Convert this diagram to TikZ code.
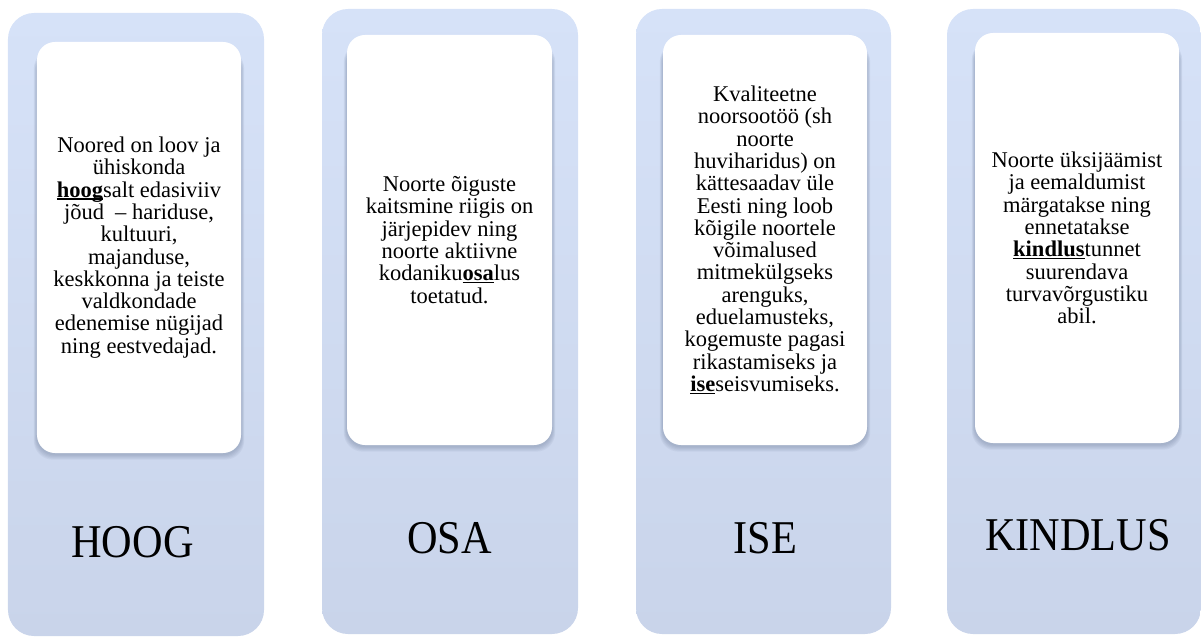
\documentclass[tikz,border=0pt]{standalone}
\usepackage{fontspec}
\setmainfont{Liberation Serif}
\definecolor{colTop}{RGB}{214,226,248}
\definecolor{colBot}{RGB}{201,212,234}
\definecolor{shadowc}{RGB}{95,110,140}
\newcommand{\kw}[1]{\setbox0\hbox{\textbf{#1}}\rlap{\rule[-2.6bp]{\wd0}{1.3bp}}\box0}
\newcommand{\mylbl}[1]{\scalebox{0.9}[1]{#1}}
\pgfdeclarelayer{colbg}
\pgfdeclarelayer{shadowbg}
\pgfsetlayers{colbg,shadowbg,main}
\begin{document}
\begin{tikzpicture}[x=1bp,y=1bp,
  col/.style={rectangle, rounded corners=26bp, top color=colTop, bottom color=colBot, draw=none, inner sep=0, minimum width=256bp, minimum height=624bp},
  card/.style={rectangle, fill=white, rounded corners=18bp, inner sep=0, minimum width=204bp, minimum height=410bp},
  shade/.style={fill=shadowc, opacity=.08, rounded corners=19bp},
  txt/.style={align=center, font=\fontsize{22.5bp}{22.3bp}\selectfont, inner sep=0},
  lbl/.style={anchor=base, font=\fontsize{47bp}{52bp}\selectfont, inner sep=0}]
\useasboundingbox (0,0) rectangle (1201,-637);
% columns
\begin{pgfonlayer}{colbg}
\node[col, minimum height=623bp] (col1) at (136,-324.5) {};
\node[col, minimum height=625bp] (col2) at (450,-321.5) {};
\node[col, minimum height=625bp, minimum width=255bp] (col3) at (763.5,-321.5) {};
\node[col, minimum height=625bp, minimum width=254bp] (col4) at (1074,-321.5) {};
\end{pgfonlayer}
% cards
\node[card, minimum height=411bp] (card1) at (139,-247.5) {};
\node[card, minimum width=205bp] (card2) at (449.5,-240) {};
\node[card] (card3) at (765,-240) {};
\node[card] (card4) at (1077,-238) {};
% soft shadows
\begin{pgfonlayer}{shadowbg}
\foreach \c in {card1,card2,card3,card4}{
  \foreach \k in {1,...,5}{
    \fill[shade] ([xshift={-0.6*\k}, yshift={-1-1.1*\k}]\c.south west) rectangle ([xshift={0.6*\k}, yshift={-10+0.4*\k}]\c.north east);
  }
}
\end{pgfonlayer}
% texts
\node[txt] (t1) at (card1.center) {Noored on loov ja\\ühiskonda\\\kw{hoog}salt edasiviiv\\jõud\ \ – hariduse,\\kultuuri,\\majanduse,\\keskkonna ja teiste\\valdkondade\\edenemise nügijad\\ning eestvedajad.};
\node[txt] (t2) at (card2.center) {Noorte õiguste\\kaitsmine riigis on\\järjepidev ning\\noorte aktiivne\\kodaniku\kw{osa}lus\\toetatud.};
\node[txt] (t3) at (card3.center) {Kvaliteetne\\noorsootöö (sh\\noorte\\huviharidus) on\\kättesaadav üle\\Eesti ning loob\\kõigile noortele\\võimalused\\mitmekülgseks\\arenguks,\\eduelamusteks,\\kogemuste pagasi\\rikastamiseks ja\\\kw{ise}seisvumiseks.};
\node[txt] (t4) at (card4.center) {Noorte üksijäämist\\ja eemaldumist\\märgatakse ning\\ennetatakse\\\kw{kindlus}tunnet\\suurendava\\turvavõrgustiku\\abil.};
% labels
\node[lbl] (l1) at (132.5,-557) {\mylbl{HOOG}};
\node[lbl] (l2) at (449.5,-553) {\mylbl{OSA}};
\node[lbl] (l3) at (765.5,-553) {\mylbl{ISE}};
\node[lbl] (l4) at (1078,-550) {\mylbl{KINDLUS}};
\end{tikzpicture}
\end{document}
